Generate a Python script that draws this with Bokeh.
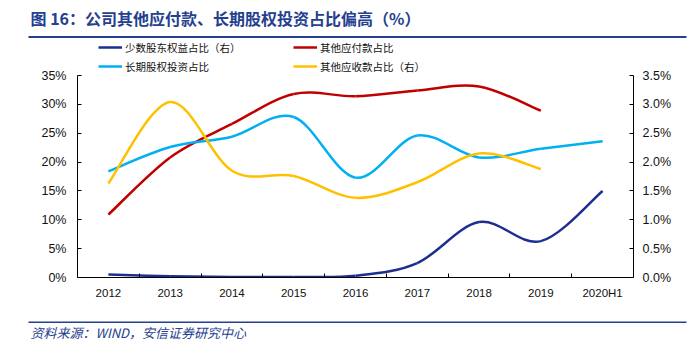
import numpy as np
from bokeh.plotting import figure
from bokeh.layouts import column
from bokeh.models import (Range1d, LinearAxis, FixedTicker, PrintfTickFormatter,
                          Legend, LegendItem, Label, BoxAnnotation, ColumnDataSource)
from bokeh.embed import file_html
from bokeh.resources import INLINE

# ---- data (percent) ----
categories = ["2012", "2013", "2014", "2015", "2016", "2017", "2018", "2019", "2020H1"]
minority_equity = [0.05, 0.02, 0.01, 0.01, 0.03, 0.25, 0.96, 0.63, 1.50]      # right axis
other_payables = [10.9, 20.8, 26.6, 31.8, 31.4, 32.4, 33.1, 28.9]              # left axis
lt_equity_inv = [18.4, 22.6, 24.4, 27.8, 17.3, 24.6, 20.8, 22.3, 23.6]         # left axis
other_receivables = [1.63, 3.04, 1.85, 1.76, 1.38, 1.65, 2.15, 1.88]           # right axis
left_ticks = [0, 5, 10, 15, 20, 25, 30, 35]
right_ticks = [0.0, 0.5, 1.0, 1.5, 2.0, 2.5, 3.0, 3.5]

names = ["少数股东权益占比（右）", "其他应付款占比", "长期股权投资占比", "其他应收款占比（右）"]
colors = ["#1c2f91", "#c00000", "#00b0f0", "#ffc000"]
title_text = "图 16：公司其他应付款、长期股权投资占比偏高（%）"
source_text = "资料来源：WIND，安信证券研究中心"

TXT = "#24408e"
FONT = "Liberation Sans"
CJK = "Noto Sans CJK SC"
W = 700


def blank_fig(h):
    f = figure(width=W, height=h, output_backend="svg", toolbar_location=None,
               x_range=Range1d(0, W), y_range=Range1d(h, 0),
               x_axis_location=None, y_axis_location=None, min_border=0,
               frame_align=False)
    f.outline_line_color = None
    f.xgrid.visible = False
    f.ygrid.visible = False
    return f


# ---- header ----
head = blank_fig(38)
head.add_layout(Label(x=30, y=17, text=title_text, text_font=CJK, text_font_size="16px",
                      text_font_style="bold", text_color=TXT, text_baseline="middle"))
head.add_layout(BoxAnnotation(left=28, right=686, top=35.5, bottom=37.5,
                              fill_color=TXT, fill_alpha=1, line_alpha=0))

# ---- main chart ----
# frame spans legend area + plot; axes are bounded to the data part
FRAME_H, PLOT_H = 239.0, 202.0
LMAX, RMAX = 35.0, 3.5
p = figure(width=W, height=274, output_backend="svg", toolbar_location=None,
           x_range=Range1d(-0.5, 8.5), y_range=Range1d(0, LMAX * FRAME_H / PLOT_H),
           min_border_left=77, min_border_right=67, min_border_top=0, min_border_bottom=35,
           frame_align=False)
p.outline_line_color = None
p.xgrid.visible = False
p.ygrid.visible = False
p.extra_y_ranges = {"right": Range1d(0, RMAX * FRAME_H / PLOT_H)}


def smooth_source(vals):
    y = np.asarray(vals, dtype=float)
    x = np.arange(len(y), dtype=float)
    n = len(y)
    xp = np.concatenate([[x[0]], x, [x[-1]]])
    yp = np.concatenate([[y[0]], y, [y[-1]]])
    x0, y0 = x[:-1], y[:-1]
    x1, y1 = x[1:], y[1:]
    cx0 = x0 + (xp[2:n + 1] - xp[0:n - 1]) / 6.0
    cy0 = y0 + (yp[2:n + 1] - yp[0:n - 1]) / 6.0
    cx1 = x1 - (xp[3:n + 2] - xp[1:n]) / 6.0
    cy1 = y1 - (yp[3:n + 2] - yp[1:n]) / 6.0
    return ColumnDataSource(dict(x0=x0, y0=y0, x1=x1, y1=y1, cx0=cx0, cy0=cy0, cx1=cx1, cy1=cy1))


series = [(minority_equity, "right"), (other_payables, "default"),
          (lt_equity_inv, "default"), (other_receivables, "right")]
renderers = []
for (vals, rng), col in zip(series, colors):
    r = p.bezier(x0="x0", y0="y0", x1="x1", y1="y1", cx0="cx0", cy0="cy0", cx1="cx1", cy1="cy1",
                 source=smooth_source(vals), line_color=col, line_width=2.5, y_range_name=rng)
    renderers.append(r)

xa = p.xaxis[0]
xa.ticker = FixedTicker(ticks=list(range(len(categories))),
                        minor_ticks=[i + 0.5 for i in range(len(categories) - 1)])
xa.major_label_overrides = {i: c for i, c in enumerate(categories)}
xa.major_tick_in = 0
xa.major_tick_out = 0
xa.minor_tick_in = 4
xa.minor_tick_out = 0
xa.major_label_standoff = 9

ya = p.yaxis[0]
ya.ticker = FixedTicker(ticks=left_ticks)
ya.formatter = PrintfTickFormatter(format="%d%%")
ya.major_label_standoff = 11
ya.bounds = (0, LMAX)

yr = LinearAxis(y_range_name="right", ticker=FixedTicker(ticks=right_ticks),
                formatter=PrintfTickFormatter(format="%.1f%%"), bounds=(0, RMAX))
p.add_layout(yr, "right")
yr.major_label_standoff = 9

for ax in [xa, ya, yr]:
    ax.axis_line_color = "black"
    ax.axis_line_width = 1
    ax.major_tick_line_color = "black"
    ax.minor_tick_line_color = "black"
    ax.major_label_text_font = FONT
    ax.major_label_text_font_size = "12.5px"
    ax.major_label_text_color = "#111111"
for ax in [ya, yr]:
    ax.major_tick_in = 4
    ax.major_tick_out = 0
    ax.minor_tick_in = 0
    ax.minor_tick_out = 0
xa.major_label_text_font_size = "11.5px"


def make_legend(items, loc):
    lg = Legend(items=items, location=loc, orientation="horizontal",
                glyph_width=24, glyph_height=18, label_height=18, label_width=168,
                label_standoff=3, spacing=0, padding=0, margin=0,
                border_line_alpha=0, background_fill_alpha=0,
                label_text_font=CJK, label_text_font_size="10.5px", label_text_color="#111111")
    p.add_layout(lg, "center")
    return lg

make_legend([LegendItem(label=names[0], renderers=[renderers[0]]),
             LegendItem(label=names[1], renderers=[renderers[1]])], (21, 221))
make_legend([LegendItem(label=names[2], renderers=[renderers[2]]),
             LegendItem(label=names[3], renderers=[renderers[3]])], (21, 202))

# ---- footer ----
foot = blank_fig(45)
foot.add_layout(BoxAnnotation(left=28, right=686, top=9, bottom=10.5,
                              fill_color=TXT, fill_alpha=1, line_alpha=0))
foot.add_layout(Label(x=30, y=20, text=source_text, text_font=CJK, text_font_size="13px",
                      text_font_style="italic", text_color=TXT, text_baseline="middle"))

layout = column(head, p, foot, spacing=0)
open("out.html", "w").write(file_html(layout, INLINE))
